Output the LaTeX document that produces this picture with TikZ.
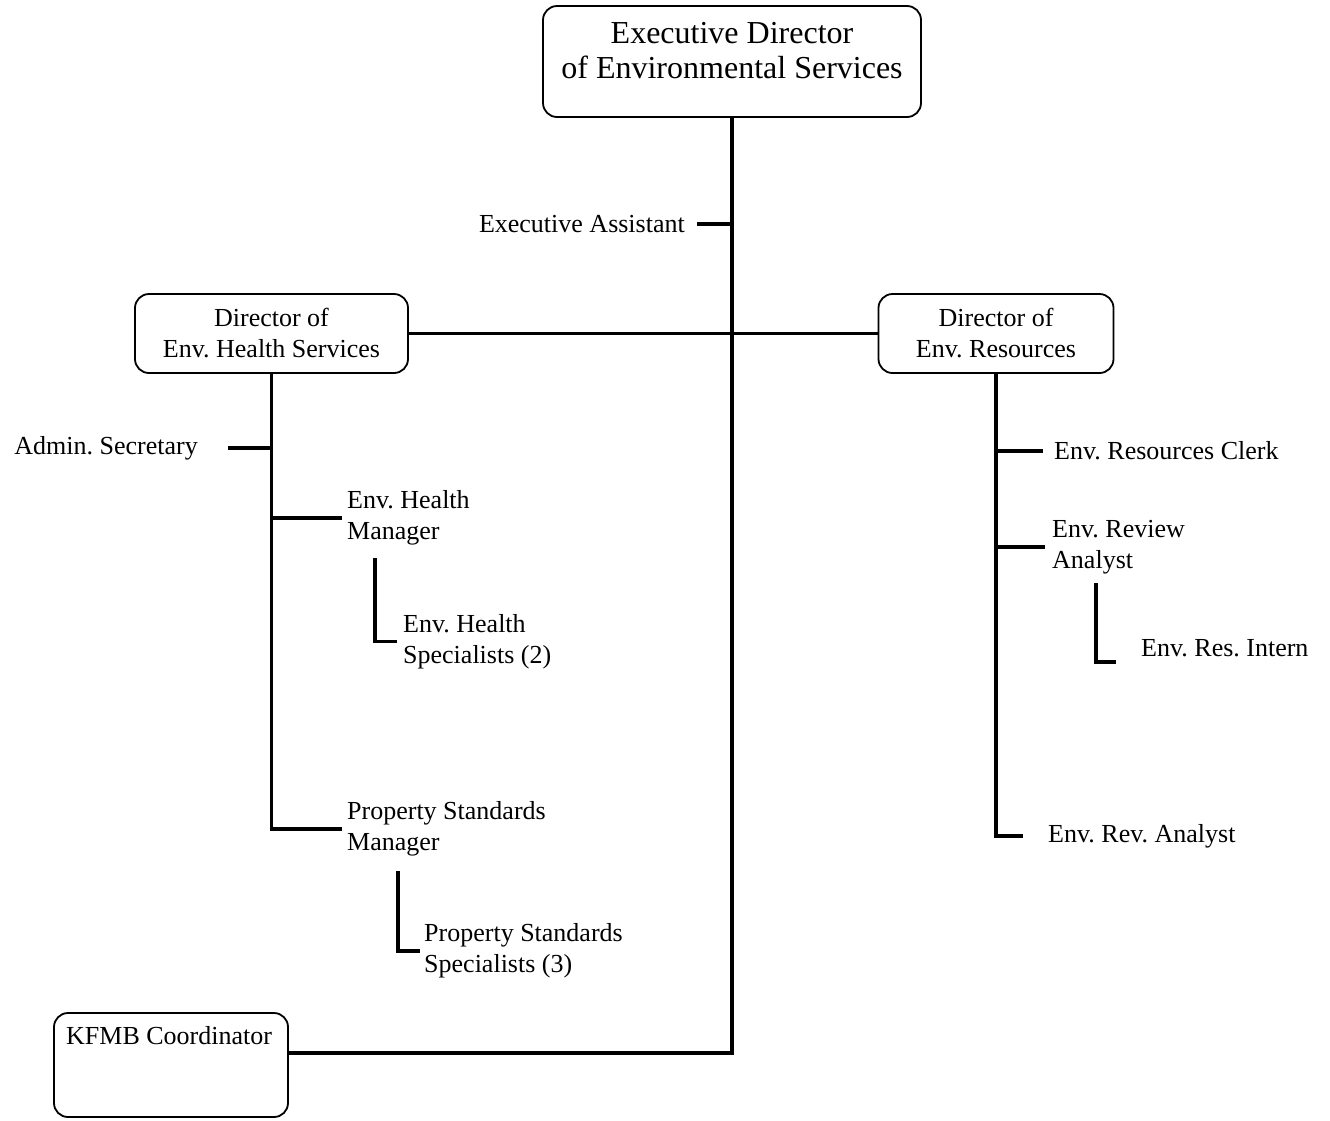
\documentclass[tikz,border=0pt]{standalone}
\usepackage{fontspec}
\setmainfont{Liberation Serif}
\frenchspacing
\begin{document}
\begin{tikzpicture}[x=1pt,y=-1pt,
  box/.style={draw, line width=1.8pt, rounded corners=14pt, inner sep=0pt},
  link/.style={line width=3.4pt},
  small/.style={font=\fontsize{26}{31}\selectfont},
  big/.style={font=\fontsize{32}{35}\selectfont},
  lbl/.style={small, anchor=west, inner sep=0pt, align=left}]
\useasboundingbox (0,0) rectangle (1330,1120);

% boxed positions
\node[box, minimum width=378pt, minimum height=111pt] (exec) at (732,61.5) {};
\node[big, align=center, inner sep=0pt] (execT) at (732,50.5) {Executive Director\\of Environmental Services};
\node[box, small, align=center, minimum width=273pt, minimum height=79pt] (dehs) at (271.5,333.5) {Director of\\Env. Health Services};
\node[box, small, align=center, minimum width=235pt, minimum height=79pt] (der) at (996,333.5) {Director of\\Env. Resources};
\node[box, minimum width=234pt, minimum height=104pt] (kfmb) at (171,1065) {};
\node[lbl] (kfmbT) at (66,1036) {KFMB Coordinator};

% plain text positions
\node[lbl, anchor=east] (ea) at (685,224) {Executive Assistant};
\node[lbl, anchor=east] (as) at (198,448) {Admin. Secretary};
\node[lbl] (ehm) at (347,518) {Env. Health\\Manager};
\node[lbl] (ehs) at (403,641.5) {Env. Health\\Specialists (2)};
\node[lbl] (psm) at (347,829) {Property Standards\\Manager};
\node[lbl] (pss) at (424,951) {Property Standards\\Specialists (3)};
\node[lbl] (erc) at (1054,451) {Env. Resources Clerk};
\node[lbl] (era1) at (1052,547) {Env. Review\\Analyst};
\node[lbl] (eri) at (1141,648) {Env. Res. Intern};
\node[lbl] (era2) at (1048,836) {Env. Rev. Analyst};

% junction points
\coordinate (kfIn) at (288,1053);
\coordinate (eaEnd) at (697,224);
\coordinate (asEnd) at (228,448);
\coordinate (ehmDrop) at (375,558);
\coordinate (psmDrop) at (398,871);
\coordinate (eraDrop) at (1096,583);
\coordinate (eriEnd) at (1116,662);

% main trunk
\draw[link] (exec.south) |- (kfIn);
\draw[link] (eaEnd) -- (eaEnd -| exec.south);
\draw[link] (dehs.east) -- (der.west);

% health services branch
\draw[link] (dehs.south) |- ([xshift=-5pt]psm.west);
\draw[link] (asEnd) -- (asEnd -| dehs.south);
\draw[link] (dehs.south |- ehm.west) -- ([xshift=-5pt]ehm.west);
\draw[link] (ehmDrop) |- ([xshift=-6pt]ehs.west);
\draw[link] (psmDrop) |- ([xshift=-4pt]pss.west);

% resources branch
\draw[link] (der.south) |- ([xshift=-25pt]era2.west);
\draw[link] (der.south |- erc.west) -- ([xshift=-11pt]erc.west);
\draw[link] (der.south |- era1.west) -- ([xshift=-7pt]era1.west);
\draw[link] (eraDrop) |- (eriEnd);
\end{tikzpicture}
\end{document}
